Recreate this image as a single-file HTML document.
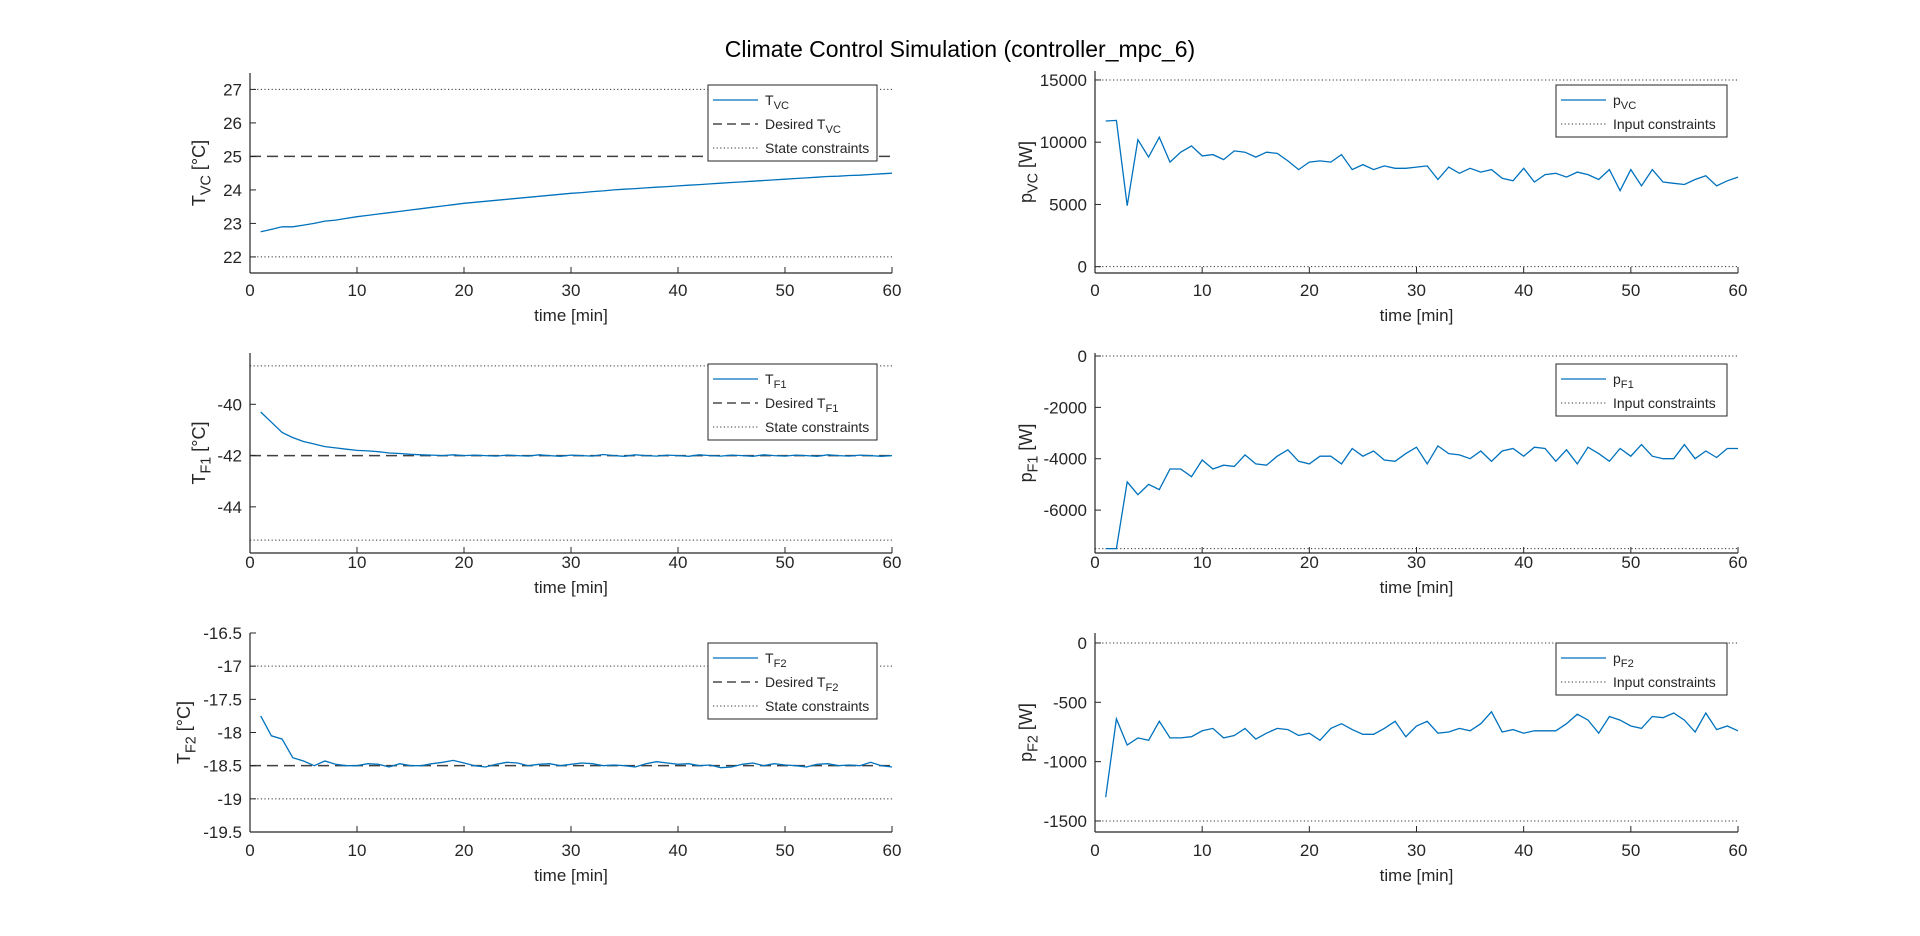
<!DOCTYPE html>
<html><head><meta charset="utf-8"><style>
html,body{margin:0;padding:0;background:#fff}
svg{display:block;font-family:"Liberation Sans",Arial,sans-serif}
</style></head><body>
<svg id="fig" width="1920" height="936" viewBox="0 0 1920 936" xmlns="http://www.w3.org/2000/svg">
<text x="960" y="57" text-anchor="middle" font-size="23" fill="#000">Climate Control Simulation (controller_mpc_6)</text>
</svg>
<script>
const timeMin = Array.from({length:60},(_,i)=>i+1);
const xTicks = [0,10,20,30,40,50,60];
const tVC = [22.75,22.82,22.9,22.9,22.95,23.0,23.07,23.1,23.15,23.2,23.24,23.28,23.32,23.36,23.4,23.44,23.48,23.52,23.56,23.6,23.63,23.66,23.69,23.72,23.75,23.78,23.81,23.84,23.87,23.9,23.92,23.95,23.97,24.0,24.02,24.04,24.06,24.08,24.1,24.12,24.14,24.16,24.18,24.2,24.22,24.24,24.26,24.28,24.3,24.32,24.34,24.36,24.38,24.4,24.41,24.43,24.44,24.46,24.48,24.5];
const tF1 = [-40.3,-40.7,-41.1,-41.3,-41.45,-41.55,-41.65,-41.7,-41.75,-41.8,-41.82,-41.85,-41.9,-41.92,-41.95,-41.97,-41.98,-42.0,-41.97,-42.0,-41.98,-42.0,-42.02,-41.98,-42.0,-42.02,-41.97,-42.0,-42.03,-41.98,-42.0,-42.02,-41.96,-42.0,-42.03,-41.97,-42.0,-42.02,-41.98,-42.0,-42.03,-41.97,-42.0,-42.02,-41.98,-42.0,-42.03,-41.97,-42.0,-42.02,-41.98,-42.0,-42.03,-41.97,-42.0,-42.02,-41.98,-42.0,-42.03,-42.0];
const tF2 = [-17.75,-18.05,-18.1,-18.38,-18.43,-18.5,-18.43,-18.48,-18.5,-18.5,-18.47,-18.48,-18.52,-18.47,-18.5,-18.5,-18.47,-18.45,-18.42,-18.46,-18.5,-18.52,-18.48,-18.45,-18.46,-18.5,-18.48,-18.47,-18.5,-18.48,-18.46,-18.47,-18.5,-18.49,-18.5,-18.52,-18.47,-18.44,-18.46,-18.48,-18.47,-18.5,-18.49,-18.53,-18.52,-18.48,-18.46,-18.5,-18.47,-18.49,-18.5,-18.52,-18.48,-18.47,-18.5,-18.49,-18.5,-18.45,-18.5,-18.52];
const pVC = [11700,11750,4900,10200,8800,10400,8400,9200,9700,8900,9000,8600,9300,9200,8800,9200,9100,8500,7800,8400,8500,8400,9000,7800,8200,7800,8100,7900,7900,8000,8100,7000,8000,7500,7900,7600,7800,7100,6900,7900,6800,7400,7500,7200,7600,7400,7000,7800,6100,7800,6500,7800,6800,6700,6600,7000,7300,6500,6900,7200];
const pF1 = [-7500,-7500,-4900,-5400,-5000,-5200,-4400,-4400,-4700,-4050,-4400,-4250,-4300,-3850,-4200,-4250,-3900,-3650,-4100,-4200,-3900,-3900,-4200,-3600,-3900,-3700,-4050,-4100,-3800,-3550,-4200,-3500,-3800,-3850,-4000,-3700,-4100,-3700,-3600,-3900,-3550,-3600,-4100,-3650,-4200,-3550,-3800,-4100,-3600,-3900,-3450,-3900,-4000,-4000,-3450,-4000,-3700,-3950,-3600,-3600];
const pF2 = [-1300,-640,-860,-800,-820,-660,-800,-800,-790,-740,-720,-800,-780,-720,-810,-760,-720,-730,-780,-760,-820,-720,-680,-730,-770,-770,-720,-660,-790,-700,-660,-760,-750,-720,-740,-680,-580,-750,-730,-760,-740,-740,-740,-680,-600,-650,-760,-620,-650,-700,-720,-620,-630,-590,-650,-750,-590,-730,-700,-740];
const ticksTVC = [22,23,24,25,26,27];
const ticksTF1 = [-44,-42,-40];
const ticksTF2 = [-19.5,-19,-18.5,-18,-17.5,-17,-16.5];
const ticksPVC = [0,5000,10000,15000];
const ticksPF1 = [-6000,-4000,-2000,0];
const ticksPF2 = [-1500,-1000,-500,0];
const desiredT = [25,-42,-18.5];
const stateLimits = [[22,27],[-45.3,-38.5],[-19,-17]];
const inputLimits = [[0,15000],[-7500,0],[-1500,0]];

const NS="http://www.w3.org/2000/svg";
const fig=document.getElementById('fig');
function mk(tag,attrs,parent){const e=document.createElementNS(NS,tag);for(const k in attrs)e.setAttribute(k,attrs[k]);(parent||fig).appendChild(e);return e;}
function subText(parent,x,y,anchor,size,base,sub,after,name){
  const t=mk('text',{x:x,y:y,'text-anchor':anchor,'font-size':size,fill:'#262626'},parent);
  
  
  const a=mk('tspan',{},t);a.textContent=base;
  const b=mk('tspan',{dy:size*0.3,'font-size':size*0.8},t);b.textContent=sub;
  const c=mk('tspan',{dy:-size*0.3},t);c.textContent=after;
  return t;
}
function axes(cfg){
  const g=mk('g',{});
  
  
  const X=v=>cfg.x0+(v-0)/(60-0)*(cfg.x1-cfg.x0);
  const Y=v=>cfg.yb+(v-cfg.ylo)/(cfg.yhi-cfg.ylo)*(cfg.yt-cfg.yb);
  cfg.limits.forEach(l=>{
    const ln=mk('line',{x1:cfg.x0,x2:cfg.x1,y1:Y(l),y2:Y(l),stroke:'#333','stroke-width':1,'stroke-dasharray':'1.2,2.4'},g);
    
    
  });
  if(cfg.desired!==undefined){
    const d=mk('line',{x1:cfg.x0,x2:cfg.x1,y1:Y(cfg.desired),y2:Y(cfg.desired),stroke:'#404040','stroke-width':1.5,'stroke-dasharray':'11,6'},g);
    
    
  }
  const pts=timeMin.map((t,i)=>X(t).toFixed(1)+','+Y(cfg.data[i]).toFixed(1)).join(' ');
  const pl=mk('polyline',{points:pts,fill:'none',stroke:'#0072BD','stroke-width':1.3},g);
  
  
  mk('line',{x1:cfg.x0,x2:cfg.x0,y1:cfg.yt,y2:cfg.yb,stroke:'#262626','stroke-width':1.2},g);
  mk('line',{x1:cfg.x0,x2:cfg.x1,y1:cfg.yb,y2:cfg.yb,stroke:'#262626','stroke-width':1.2},g);
  xTicks.forEach(t=>{
    mk('line',{x1:X(t),x2:X(t),y1:cfg.yb,y2:cfg.yb-6,stroke:'#262626','stroke-width':1},g);
    const tx=mk('text',{x:X(t),y:cfg.xl+6,'text-anchor':'middle','font-size':17,fill:'#262626'},g);
    
    
    tx.textContent=t;
  });
  cfg.ticks.forEach(t=>{
    mk('line',{x1:cfg.x0,x2:cfg.x0+6,y1:Y(t),y2:Y(t),stroke:'#262626','stroke-width':1},g);
    const ty=mk('text',{x:cfg.x0-8,y:Y(t)+6,'text-anchor':'end','font-size':17,fill:'#262626'},g);
    
    
    ty.textContent=t;
  });
  const xt=mk('text',{x:(cfg.x0+cfg.x1)/2,y:cfg.xl+31,'text-anchor':'middle','font-size':17,fill:'#262626'},g);
  
  
  xt.textContent='time [min]';
  const yc=(cfg.yt+cfg.yb)/2;
  const yl=subText(g,0,0,'middle',18,cfg.yBase,cfg.ySub,cfg.yAfter,'y-axis-title');
  yl.setAttribute('transform','translate('+cfg.ylx+','+yc+') rotate(-90)');
  const lg=mk('g',{},g);
  
  
  const lx=cfg.leg[0],ly=cfg.leg[1],lw=cfg.leg[2],n=cfg.legItems.length,lh=n*24+4;
  mk('rect',{x:lx,y:ly,width:lw,height:lh,fill:'#fff',stroke:'#262626','stroke-width':1},lg);
  cfg.legItems.forEach((it,i)=>{
    const yy=ly+15+i*24;
    const st={line:['#0072BD',1.3,'none'],dash:['#262626',1.3,'9,5'],dot:['#333',1,'1.2,2.4']}[it[0]];
    mk('line',{x1:lx+5,x2:lx+50,y1:yy,y2:yy,stroke:st[0],'stroke-width':st[1],'stroke-dasharray':st[2]},lg);
    subText(lg,lx+57,yy+5,'start',14,it[1],it[2],'', 'legend-entry');
  });
}
const L0=250,L1=892,R0=1095,R1=1738;
axes({name:'axes-t-vc',x0:L0,x1:L1,yt:73,yb:273,ylo:21.52,yhi:27.49,xl:290,ylx:205,data:tVC,ticks:ticksTVC,limits:stateLimits[0],desired:desiredT[0],yBase:'T',ySub:'VC',yAfter:' [°C]',leg:[708,85,169],legItems:[['line','T','VC'],['dash','Desired T','VC'],['dot','State constraints','']]});
axes({name:'axes-t-f1',x0:L0,x1:L1,yt:353,yb:553,ylo:-45.8,yhi:-38.0,xl:562,ylx:205,data:tF1,ticks:ticksTF1,limits:stateLimits[1],desired:desiredT[1],yBase:'T',ySub:'F1',yAfter:' [°C]',leg:[708,364,169],legItems:[['line','T','F1'],['dash','Desired T','F1'],['dot','State constraints','']]});
axes({name:'axes-t-f2',x0:L0,x1:L1,yt:633,yb:832,ylo:-19.5,yhi:-16.5,xl:850,ylx:190,data:tF2,ticks:ticksTF2,limits:stateLimits[2],desired:desiredT[2],yBase:'T',ySub:'F2',yAfter:' [°C]',leg:[708,643,169],legItems:[['line','T','F2'],['dash','Desired T','F2'],['dot','State constraints','']]});
axes({name:'axes-p-vc',x0:R0,x1:R1,yt:71,yb:273,ylo:-508,yhi:15720,xl:290,ylx:1032,data:pVC,ticks:ticksPVC,limits:inputLimits[0],yBase:'p',ySub:'VC',yAfter:' [W]',leg:[1556,85,171],legItems:[['line','p','VC'],['dot','Input constraints','']]});
axes({name:'axes-p-f1',x0:R0,x1:R1,yt:353,yb:553,ylo:-7670,yhi:117,xl:562,ylx:1032,data:pF1,ticks:ticksPF1,limits:inputLimits[1],yBase:'p',ySub:'F1',yAfter:' [W]',leg:[1556,364,171],legItems:[['line','p','F1'],['dot','Input constraints','']]});
axes({name:'axes-p-f2',x0:R0,x1:R1,yt:633,yb:832,ylo:-1593,yhi:84,xl:850,ylx:1032,data:pF2,ticks:ticksPF2,limits:inputLimits[2],yBase:'p',ySub:'F2',yAfter:' [W]',leg:[1556,643,171],legItems:[['line','p','F2'],['dot','Input constraints','']]});
</script>
</body></html>
